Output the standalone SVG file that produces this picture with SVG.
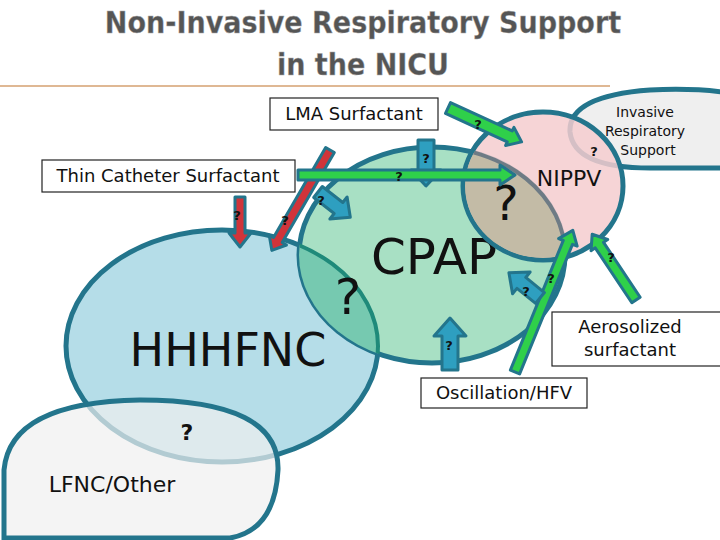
<svg xmlns="http://www.w3.org/2000/svg" width="720" height="540" viewBox="0 0 720 540">
<style>
.lbl{font-family:"DejaVu Sans",sans-serif;fill:#111}
.q{font-family:"DejaVu Sans",sans-serif;font-weight:bold;font-size:13px;fill:#111;text-anchor:middle}
.ar{stroke:#23758c;stroke-width:3;stroke-linejoin:round}
.g{fill:#2fd04a}.r{fill:#d0343a}.b{fill:#2e9fc0}
.box{fill:#fff;stroke:#222;stroke-width:1.2}
.sh{stroke:#23758c;stroke-width:5}
</style>
<rect width="720" height="540" fill="#fff"/>
<g id="title" font-family="'DejaVu Sans Condensed','Liberation Sans Narrow',sans-serif" font-size="30" font-weight="bold" text-anchor="middle" fill="#555" stroke="#aaa" stroke-width="0.4">
<text x="363" y="33">Non-Invasive Respiratory Support</text>
<text x="363" y="75">in the NICU</text>
</g>
<line x1="0" y1="86" x2="610" y2="86" stroke="#d4a070" stroke-width="1.5"/>
<defs>
<clipPath id="cpC"><ellipse cx="432" cy="255" rx="133" ry="108"/></clipPath>
<clipPath id="cpN"><ellipse cx="543" cy="186" rx="78" ry="72"/></clipPath>
</defs>
<g id="hhhfnc">
<ellipse cx="222" cy="346" rx="156" ry="116" fill="#b5dde8" class="sh"/>
<text class="lbl" x="228" y="366" font-size="46" text-anchor="middle">HHHFNC</text>
</g>
<g id="lfnc">
<path d="M4,538 L4,470 Q10,402 140,400 Q280,400 278,470 Q275,530 230,538 Z" fill="#f0f0f0" fill-opacity="0.7" class="sh"/>
<text class="lbl" x="112" y="492" font-size="22" text-anchor="middle">LFNC/Other</text>
<text class="lbl" x="187" y="440" font-size="22" font-weight="bold" text-anchor="middle">?</text>
</g>
<g id="cpap">
<ellipse cx="432" cy="255" rx="133" ry="108" fill="#a8e0c4" class="sh"/>
<ellipse cx="222" cy="346" rx="156" ry="116" fill="#76c9b0" stroke="#1f8a7a" stroke-width="4" clip-path="url(#cpC)"/>
<text class="lbl" x="348" y="314" font-size="50" text-anchor="middle">?</text>
<text class="lbl" x="434" y="274" font-size="50" text-anchor="middle">CPAP</text>
</g>
<g id="invasive">
<path d="M722,92 Q690,88 650,90 Q568,96 570,132 Q574,168 650,168 L722,168" fill="#efefef" class="sh"/>
</g>
<g id="nippv">
<ellipse cx="543" cy="186" rx="80" ry="74" fill="#f4cccf" fill-opacity="0.85" class="sh"/>
<ellipse cx="432" cy="255" rx="133" ry="108" fill="#c3bba6" stroke="#6e7b85" stroke-width="4" clip-path="url(#cpN)"/>
<text class="lbl" x="569" y="186" font-size="22" text-anchor="middle">NIPPV</text>
<text class="lbl" x="506" y="220" font-size="48" text-anchor="middle">?</text>
<text class="lbl" font-size="14" text-anchor="middle"><tspan x="645" y="117">Invasive</tspan><tspan x="645" y="136">Respiratory</tspan><tspan x="648" y="155">Support</tspan></text>
<text class="q" x="594" y="156" font-size="14">?</text>
</g>
<g id="lma"><rect class="box" x="270" y="98" width="168" height="32"/><text class="lbl" x="354" y="120" font-size="18" text-anchor="middle">LMA Surfactant</text></g>
<g id="thin"><rect class="box" x="42" y="160" width="253" height="32"/><text class="lbl" x="168" y="182" font-size="18" text-anchor="middle">Thin Catheter Surfactant</text></g>
<g id="osc"><rect class="box" x="421" y="378" width="166" height="30"/><text class="lbl" x="504" y="399" font-size="18" text-anchor="middle">Oscillation/HFV</text></g>
<g id="aero"><rect class="box" x="552" y="312" width="170" height="54"/><text class="lbl" font-size="18" text-anchor="middle"><tspan x="630" y="333">Aerosolized</tspan><tspan x="630" y="356">surfactant</tspan></text></g>
<g id="connectors">
<polygon class="ar r" transform="translate(240,197) rotate(90)" points="0,-5 36,-5 36,-11 50,0 36,11 36,5 0,5"/>
<polygon class="ar r" transform="translate(330,150) rotate(120.1)" points="0,-5 104,-5 104,-10 116,0 104,10 104,5 0,5"/>
<polygon class="ar b" transform="translate(318,192) rotate(38)" points="0,-7 26,-7 26,-14 41,0 26,14 26,7 0,7"/>
<polygon class="ar b" transform="translate(426,140) rotate(90)" points="0,-8 30,-8 30,-15 46,0 30,15 30,8 0,8"/>
<polygon class="ar g" transform="translate(298,175)" points="0,-5 202,-5 202,-10 217,0 202,10 202,5 0,5"/>
<polygon class="ar g" transform="translate(448,108) rotate(24.7)" points="0,-6 68,-6 68,-10 81,0 68,10 68,6 0,6"/>
<polygon class="ar g" transform="translate(515,372) rotate(-67.8)" points="0,-5 140,-5 140,-10 153,0 140,10 140,5 0,5"/>
<polygon class="ar g" transform="translate(636,300) rotate(-123.7)" points="0,-5 66,-5 66,-10 79,0 66,10 66,5 0,5"/>
<polygon class="ar b" transform="translate(540,298) rotate(-141)" points="0,-7 24,-7 24,-14 40,0 24,14 24,7 0,7"/>
<polygon class="ar b" transform="translate(450,370) rotate(-90)" points="0,-8 34,-8 34,-16 52,0 34,16 34,8 0,8"/>
<text class="q" x="237" y="220">?</text>
<text class="q" x="285" y="225">?</text>
<text class="q" x="321" y="205">?</text>
<text class="q" x="426" y="163">?</text>
<text class="q" x="399" y="181">?</text>
<text class="q" x="478" y="129">?</text>
<text class="q" x="551" y="283">?</text>
<text class="q" x="611" y="262">?</text>
<text class="q" x="526" y="296">?</text>
<text class="q" x="449" y="350">?</text>
</g>
</svg>
